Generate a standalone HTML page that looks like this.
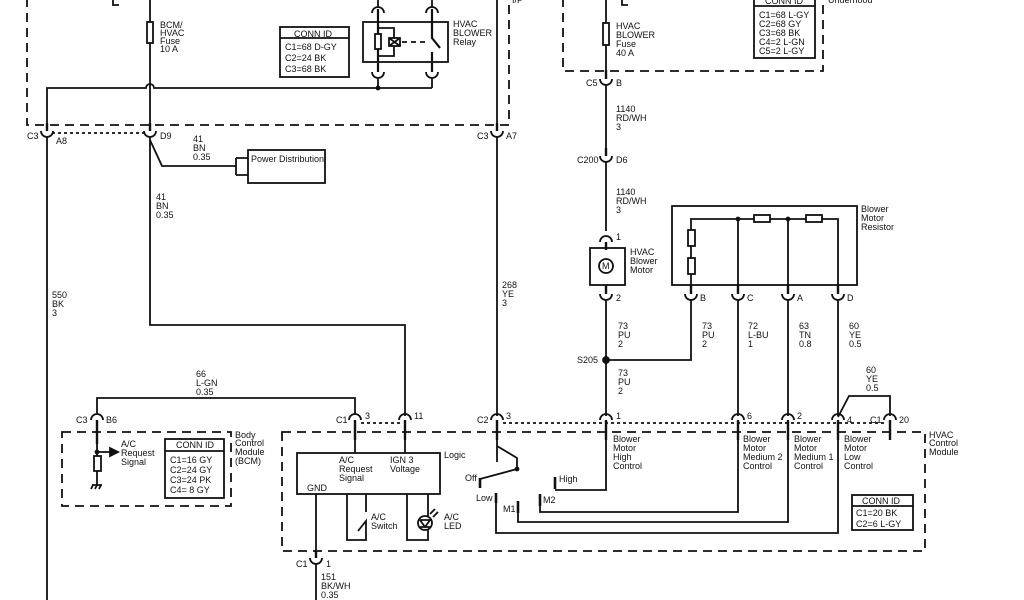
<!DOCTYPE html>
<html><head><meta charset="utf-8"><style>
html,body{margin:0;padding:0;background:#fff;}
svg{display:block;}
text{font-family:"Liberation Sans",sans-serif;font-size:9px;fill:#111;}
</style></head><body>
<svg width="1024" height="600" viewBox="0 0 1024 600" xmlns="http://www.w3.org/2000/svg">
<g fill="none" stroke="#111" stroke-width="1.8">
<path d="M27 -2 V125 H509 V-2" stroke-dasharray="9,6"/>
<path d="M563 -2 V71 H823 V-2" stroke-dasharray="9,6"/>
<rect x="62" y="432" width="169" height="74" stroke-dasharray="9,6"/>
<rect x="282" y="432" width="643" height="119" stroke-dasharray="9,6"/>
<path d="M52 133 H145" stroke-dasharray="3,3"/>
<path d="M361 423 H400" stroke-dasharray="3,3"/>
<path d="M503 423 H884" stroke-dasharray="3,3"/>

<path d="M113 0 V5 H119"/>
<path d="M622 0 V5 H628"/>

<path d="M150 -2 V125"/>
<rect x="147" y="22" width="6" height="21" fill="#fff"/>
<path d="M47 125 V88 H146 A4 4 0 0 1 154 88 H432"/>
<rect x="363" y="22" width="85" height="40"/>
<path d="M378 -2 V8 M432 -2 V8"/>
<path d="M372 13 A6 6 0 0 1 384 13 M426 13 A6 6 0 0 1 438 13"/>
<path d="M378 9 V62 M432 9 V38 L440 48 M432 52 V62" stroke-width="2.2"/>
<rect x="375" y="34" width="6" height="15" fill="#fff"/>
<path d="M378 28 H394 V56 H378"/>
<rect x="389" y="38" width="11" height="8" fill="#fff"/>
<path d="M389 38 L400 46 M389 46 L400 38"/>
<path d="M402 42 H428" stroke-dasharray="5,4"/>
<path d="M378 63 V72 M432 63 V72" stroke-width="2.2"/>
<path d="M372 72 A6 6 0 0 0 384 72 M426 72 A6 6 0 0 0 438 72"/>
<path d="M378 78 V88 M432 78 V88"/>
<circle cx="378" cy="88" r="1.5" fill="#111"/>
<path d="M497 -2 V125"/>

<path d="M47 123 V131 M150 123 V131 M497 123 V131" stroke-width="2.4"/>
<path d="M41 131 A6 6 0 0 0 53 131 M144 131 A6 6 0 0 0 156 131 M491 131 A6 6 0 0 0 503 131"/>
<path d="M47 137 V600"/>
<path d="M150 137 V325 H405 V416"/>
<path d="M150 140 L162 166 H236"/>
<path d="M236 158 V175 M236 158 H248 M236 175 H248"/>
<rect x="248" y="150" width="77" height="33"/>
<path d="M497 137 V416"/>

<rect x="280" y="27" width="69" height="50"/>
<path d="M280 38 H349"/>
<rect x="754" y="-2" width="61" height="60"/>
<path d="M754 6 H815"/>

<path d="M606 -2 V71"/>
<rect x="603" y="23" width="6" height="22" fill="#fff"/>
<path d="M606 70 V79" stroke-width="2.4"/>
<path d="M600 79 A6 6 0 0 0 612 79"/>
<path d="M606 85 V149"/>
<path d="M606 148 V156" stroke-width="2.4"/>
<path d="M600 156 A6 6 0 0 0 612 156"/>
<path d="M606 162 V231"/>
<path d="M600 242 A6 6 0 0 1 612 242"/>
<path d="M606 242 V250" stroke-width="2.4"/>
<rect x="590" y="248" width="35" height="37"/>
<circle cx="606" cy="266" r="7"/>
<path d="M606 285 V294" stroke-width="2.4"/>
<path d="M600 294 A6 6 0 0 0 612 294"/>
<path d="M606 300 V416"/>
<circle cx="606" cy="360" r="3" fill="#111"/>

<rect x="672" y="206" width="185" height="79"/>
<path d="M691 285 V219 H838 V285 M738 219 V285 M788 219 V285"/>
<circle cx="738" cy="219" r="1.5" fill="#111"/>
<circle cx="788" cy="219" r="1.5" fill="#111"/>
<rect x="754" y="215" width="16" height="7" fill="#fff"/>
<rect x="806" y="215" width="16" height="7" fill="#fff"/>
<rect x="688" y="230" width="7" height="16" fill="#fff"/>
<rect x="688" y="258" width="7" height="16" fill="#fff"/>
<path d="M691 285 V294 M738 285 V294 M788 285 V294 M838 285 V294" stroke-width="2.4"/>
<path d="M685 294 A6 6 0 0 0 697 294 M732 294 A6 6 0 0 0 744 294 M782 294 A6 6 0 0 0 794 294 M832 294 A6 6 0 0 0 844 294"/>
<path d="M691 300 V360 H606"/>
<path d="M738 300 V416 M788 300 V416 M838 300 V416"/>
<path d="M838 417 L849 396 H890 V416"/>

<g>
<path d="M91 420 A6 6 0 0 1 103 420 M349 420 A6 6 0 0 1 361 420 M399 420 A6 6 0 0 1 411 420 M491 420 A6 6 0 0 1 503 420 M600 420 A6 6 0 0 1 612 420 M732 420 A6 6 0 0 1 744 420 M782 420 A6 6 0 0 1 794 420 M832 420 A6 6 0 0 1 844 420 M884 420 A6 6 0 0 1 896 420"/>
<path d="M97 420 V444 M355 420 V440 M405 420 V440 M497 420 V440 M606 420 V440 M738 420 V440 M788 420 V440 M838 420 V440 M890 420 V440" stroke-width="2.4"/>
</g>
<path d="M97 414 V398 H355 V414"/>

<path d="M97 444 V485 M97 452 H110"/>
<path d="M110 448 L118 452 L110 456 Z" fill="#111"/>
<circle cx="97" cy="452" r="1.5" fill="#111"/>
<rect x="94" y="456" width="7" height="15" fill="#fff"/>
<path d="M92 485 H102 M93 485 L91 489 M97 485 L95 489 M101 485 L99 489"/>
<rect x="165" y="439" width="59" height="59"/>
<path d="M165 451 H224"/>

<path d="M355 440 V453 M405 440 V453"/>
<rect x="297" y="453" width="143" height="41"/>
<path d="M316 494 V558"/>
<path d="M316 550 V558" stroke-width="2.4"/>
<path d="M310 558 A6 6 0 0 0 322 558"/>
<path d="M316 564 V600"/>
<path d="M347 494 V540 H366 V521 L358 531 M366 512 V494"/>
<path d="M407 494 V540 H428 V494"/>
<circle cx="425" cy="523" r="7" fill="#fff"/>
<path d="M420 520 H430 L425 527 Z M420 527 H430"/>
<path d="M430 514 L435 509 M433 517 L438 512"/>

<path d="M497 440 V462"/>
<path d="M497 446 L517 458 V469 L480 479"/>
<circle cx="517" cy="469" r="1.5" fill="#111"/>
<path d="M480 478 V488 M555 477 V489 M496 493 V503 M518 501 V513 M540 494 V506" stroke-width="2.6"/>
<path d="M555 490 H606 V440"/>
<path d="M540 506 V512 H738 V440"/>
<path d="M518 513 V522 H788 V440"/>
<path d="M496 503 V533 H838 V440"/>

<rect x="852" y="495" width="61" height="35"/>
<path d="M852 506 H913"/>
</g>

<g>
<text x="160" y="28">BCM/</text><text x="160" y="36">HVAC</text><text x="160" y="44">Fuse</text><text x="160" y="52">10 A</text>
<text x="294" y="37" font-size="9.5">CONN ID</text>
<text x="285" y="50">C1=68 D-GY</text><text x="285" y="61">C2=24 BK</text><text x="285" y="72">C3=68 BK</text>
<text x="453" y="27">HVAC</text><text x="453" y="36">BLOWER</text><text x="453" y="45">Relay</text>
<text x="512" y="3">I/P</text>
<text x="27" y="139">C3</text><text x="56" y="144">A8</text>
<text x="160" y="139">D9</text>
<text x="193" y="142">41</text><text x="193" y="151">BN</text><text x="193" y="160">0.35</text>
<text x="251" y="162">Power Distribution</text>
<text x="156" y="200">41</text><text x="156" y="209">BN</text><text x="156" y="218">0.35</text>
<text x="52" y="298">550</text><text x="52" y="307">BK</text><text x="52" y="316">3</text>
<text x="477" y="139">C3</text><text x="506" y="139">A7</text>
<text x="502" y="288">268</text><text x="502" y="297">YE</text><text x="502" y="306">3</text>
<text x="616" y="29">HVAC</text><text x="616" y="38">BLOWER</text><text x="616" y="47">Fuse</text><text x="616" y="56">40 A</text>
<text x="765" y="4">CONN ID</text>
<text x="759" y="18">C1=68 L-GY</text><text x="759" y="27">C2=68 GY</text><text x="759" y="36">C3=68 BK</text><text x="759" y="45">C4=2 L-GN</text><text x="759" y="54">C5=2 L-GY</text>
<text x="828" y="3">Underhood</text>
<text x="586" y="86">C5</text><text x="616" y="86">B</text>
<text x="616" y="112">1140</text><text x="616" y="121">RD/WH</text><text x="616" y="130">3</text>
<text x="577" y="163">C200</text><text x="616" y="163">D6</text>
<text x="616" y="195">1140</text><text x="616" y="204">RD/WH</text><text x="616" y="213">3</text>
<text x="616" y="240">1</text>
<text x="630" y="255">HVAC</text><text x="630" y="264">Blower</text><text x="630" y="273">Motor</text>
<text x="602" y="269" font-size="7">M</text>
<text x="616" y="301">2</text>
<text x="861" y="212">Blower</text><text x="861" y="221">Motor</text><text x="861" y="230">Resistor</text>
<text x="700" y="301">B</text><text x="747" y="301">C</text><text x="797" y="301">A</text><text x="847" y="301">D</text>
<text x="618" y="329">73</text><text x="618" y="338">PU</text><text x="618" y="347">2</text>
<text x="702" y="329">73</text><text x="702" y="338">PU</text><text x="702" y="347">2</text>
<text x="748" y="329">72</text><text x="748" y="338">L-BU</text><text x="748" y="347">1</text>
<text x="799" y="329">63</text><text x="799" y="338">TN</text><text x="799" y="347">0.8</text>
<text x="849" y="329">60</text><text x="849" y="338">YE</text><text x="849" y="347">0.5</text>
<text x="577" y="363">S205</text>
<text x="618" y="376">73</text><text x="618" y="385">PU</text><text x="618" y="394">2</text>
<text x="866" y="373">60</text><text x="866" y="382">YE</text><text x="866" y="391">0.5</text>
<text x="196" y="377">66</text><text x="196" y="386">L-GN</text><text x="196" y="395">0.35</text>
<text x="76" y="423">C3</text><text x="106" y="423">B6</text>
<text x="336" y="423">C1</text><text x="365" y="419">3</text>
<text x="414" y="419">11</text>
<text x="477" y="423">C2</text><text x="506" y="419">3</text>
<text x="616" y="419">1</text><text x="747" y="419">6</text><text x="797" y="419">2</text><text x="847" y="423">4</text>
<text x="870" y="423">C1</text><text x="899" y="423">20</text>
<text x="121" y="447">A/C</text><text x="121" y="456">Request</text><text x="121" y="465">Signal</text>
<text x="176" y="448" font-size="9.5">CONN ID</text>
<text x="170" y="463">C1=16 GY</text><text x="170" y="473">C2=24 GY</text><text x="170" y="483">C3=24 PK</text><text x="170" y="493">C4=  8 GY</text>
<text x="235" y="438">Body</text><text x="235" y="446">Control</text><text x="235" y="455">Module</text><text x="235" y="464">(BCM)</text>
<text x="339" y="463">A/C</text><text x="339" y="472">Request</text><text x="339" y="481">Signal</text>
<text x="390" y="463">IGN 3</text><text x="390" y="472">Voltage</text>
<text x="444" y="458">Logic</text>
<text x="307" y="491">GND</text>
<text x="371" y="520">A/C</text><text x="371" y="529">Switch</text>
<text x="444" y="520">A/C</text><text x="444" y="529">LED</text>
<text x="465" y="481">Off</text><text x="476" y="501">Low</text><text x="503" y="512">M1</text><text x="543" y="503">M2</text><text x="559" y="482">High</text>
<text x="613" y="442">Blower</text><text x="613" y="451">Motor</text><text x="613" y="460">High</text><text x="613" y="469">Control</text>
<text x="743" y="442">Blower</text><text x="743" y="451">Motor</text><text x="743" y="460">Medium 2</text><text x="743" y="469">Control</text>
<text x="794" y="442">Blower</text><text x="794" y="451">Motor</text><text x="794" y="460">Medium 1</text><text x="794" y="469">Control</text>
<text x="844" y="442">Blower</text><text x="844" y="451">Motor</text><text x="844" y="460">Low</text><text x="844" y="469">Control</text>
<text x="929" y="438">HVAC</text><text x="929" y="446">Control</text><text x="929" y="455">Module</text>
<text x="862" y="504" font-size="9.5">CONN ID</text>
<text x="856" y="516">C1=20 BK</text><text x="856" y="527">C2=6 L-GY</text>
<text x="296" y="567">C1</text><text x="326" y="567">1</text>
<text x="321" y="580">151</text><text x="321" y="589">BK/WH</text><text x="321" y="598">0.35</text>
</g>
</svg>
</body></html>
